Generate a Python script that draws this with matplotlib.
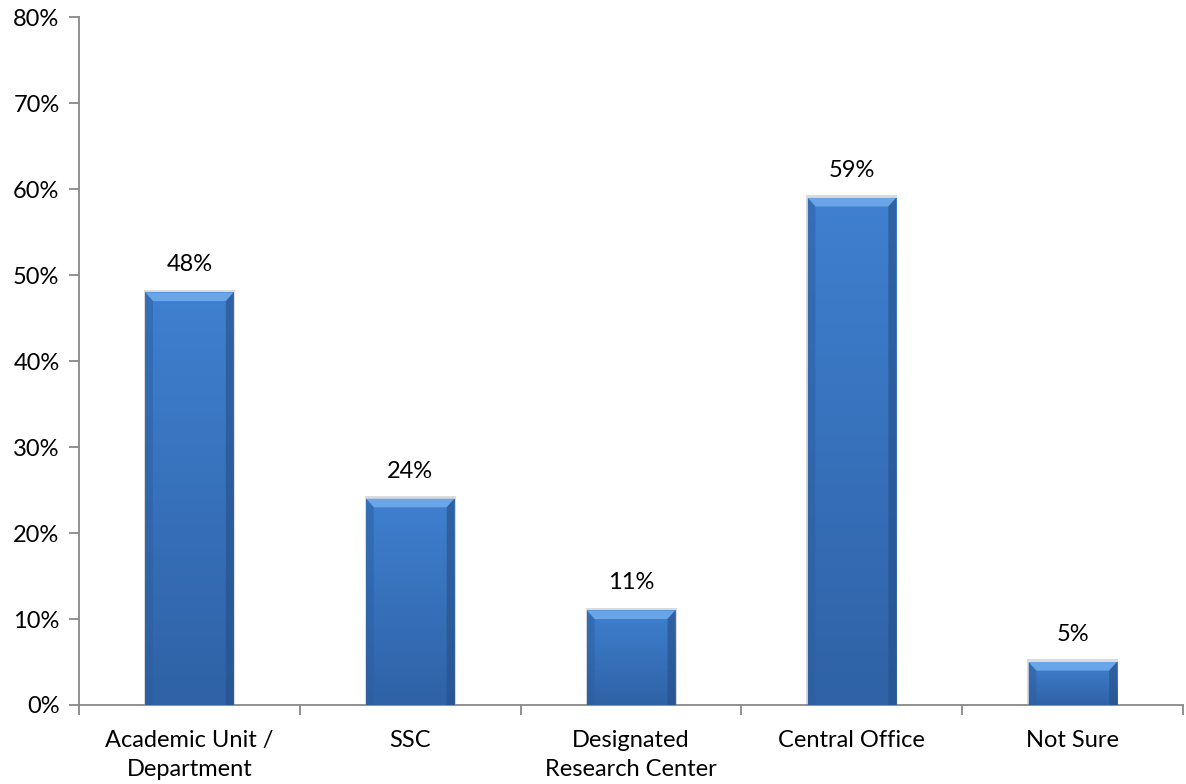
import numpy as np
import matplotlib
matplotlib.use("Agg")
import matplotlib.pyplot as plt
from matplotlib.patches import Polygon, Rectangle
from matplotlib.colors import LinearSegmentedColormap

categories = ["Academic Unit /\nDepartment", "SSC", "Designated\nResearch Center",
              "Central Office", "Not Sure"]
values = [48, 24, 11, 59, 5]
y_ticks = [0, 10, 20, 30, 40, 50, 60, 70, 80]
y_tick_labels = ["0%", "10%", "20%", "30%", "40%", "50%", "60%", "70%", "80%"]

plt.rcParams["font.family"] = ["Lato", "DejaVu Sans"]
FS = 17

fig = plt.figure(figsize=(11.86, 7.84), dpi=100)
ax = fig.add_axes([0.0666, 0.1008, 0.931, 0.877])

n = len(categories)
ax.set_xlim(-0.5, n - 0.5)
ax.set_ylim(0, 80)

bar_w = 0.4
bev_x = 0.035  # bevel width in category units
bev_y = 1.0    # bevel height in percent units

grad = LinearSegmentedColormap.from_list("barfill", ["#2f62a6", "#3f80d0"])
gimg = np.linspace(0, 1, 256).reshape(-1, 1)

for i, v in enumerate(values):
    x0, x1 = i - bar_w / 2, i + bar_w / 2
    # soft shadow
    ax.add_patch(Rectangle((x0 - 0.006, 0), bar_w + 0.012, v + 0.3,
                           facecolor="#b8b8b8", edgecolor="none", alpha=0.5, zorder=2))
    im = ax.imshow(gimg, extent=(x0, x1, 0, v), origin="lower", cmap=grad,
                   aspect="auto", zorder=3, interpolation="bilinear")
    clip = Rectangle((x0, 0), bar_w, v, transform=ax.transData)
    im.set_clip_path(clip)
    # bevels
    ax.add_patch(Polygon([(x0, v), (x1, v), (x1 - bev_x, v - bev_y), (x0 + bev_x, v - bev_y)],
                         closed=True, facecolor="#6aa5e8", edgecolor="none", zorder=4))
    ax.add_patch(Polygon([(x0, v), (x0 + bev_x, v - bev_y), (x0 + bev_x, 0), (x0, 0)],
                         closed=True, facecolor="#2d5e9f", edgecolor="none", alpha=0.5, zorder=4))
    ax.add_patch(Polygon([(x1, v), (x1 - bev_x, v - bev_y), (x1 - bev_x, 0), (x1, 0)],
                         closed=True, facecolor="#264f88", edgecolor="none", alpha=0.6, zorder=4))
    ax.text(i, v + 2.0, f"{v}%", ha="center", va="bottom", fontsize=FS, color="#000000")

ax.set_yticks(y_ticks)
ax.set_yticklabels(y_tick_labels, fontsize=FS)
ax.set_xticks(np.arange(-0.5, n, 1.0))
ax.set_xticklabels([])
ax.set_xticks(np.arange(n), minor=True)
ax.set_xticklabels(categories, minor=True, fontsize=FS, linespacing=1.5)
ax.tick_params(axis="x", which="minor", length=0, pad=18)
ax.tick_params(axis="x", which="major", length=7, color="#888888", width=1.3, direction="out")
ax.tick_params(axis="y", length=7, color="#888888", width=1.3, direction="out", pad=7)

for side in ["top", "right"]:
    ax.spines[side].set_visible(False)
for side in ["left", "bottom"]:
    ax.spines[side].set_color("#888888")
    ax.spines[side].set_linewidth(1.3)

fig.savefig("out.png", dpi=100)
